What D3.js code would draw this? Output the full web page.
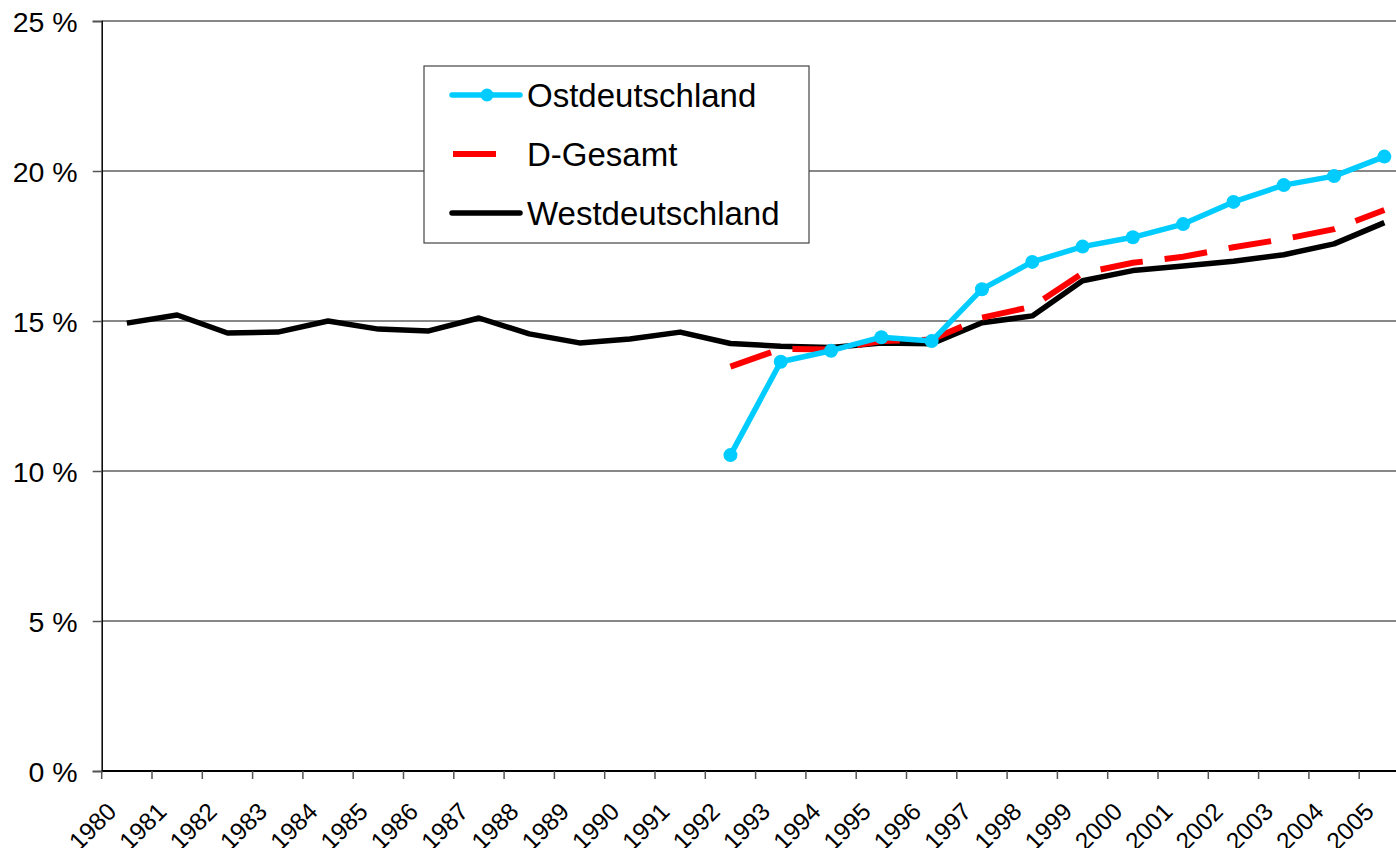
<!DOCTYPE html>
<html>
<head>
<meta charset="utf-8">
<script src="https://cdn.jsdelivr.net/npm/d3@7"></script>
<style>
  html, body { margin: 0; padding: 0; background: #fff; overflow: hidden; }
  svg { display: block; font-family: "Liberation Sans", Arial, sans-serif; }
</style>
</head>
<body>
<svg id="chart" width="1396" height="848"></svg>
<script>
const years = ["1980","1981","1982","1983","1984","1985","1986","1987","1988","1989","1990","1991","1992","1993","1994","1995","1996","1997","1998","1999","2000","2001","2002","2003","2004","2005"];
const westValues = [14.93,15.2,14.6,14.63,15.0,14.73,14.67,15.1,14.57,14.27,14.4,14.63,14.25,14.16,14.12,14.27,14.24,14.94,15.17,16.34,16.68,16.83,16.99,17.21,17.57,18.28];
const gesamtYears = ["1992","1993","1994","1995","1996","1997","1998","1999","2000","2001","2002","2003","2004","2005"];
const gesamtValues = [13.48,14.07,14.05,14.33,14.38,15.11,15.48,16.59,16.94,17.14,17.46,17.73,18.06,18.7];
const ostYears = ["1992","1993","1994","1995","1996","1997","1998","1999","2000","2001","2002","2003","2004","2005"];
const ostValues = [10.53,13.64,14.01,14.46,14.33,16.06,16.97,17.48,17.79,18.23,18.97,19.53,19.83,20.48];
const yTicks = [0,5,10,15,20,25];
const yTickLabels = ["0 %","5 %","10 %","15 %","20 %","25 %"];
const legendLabels = ["Ostdeutschland","D-Gesamt","Westdeutschland"];

const svg = d3.select("#chart");
const pLeft = 101.7, pRight = 1409.5, pTop = 21, pBottom = 771;

const x = d3.scaleBand().domain(years).range([pLeft, pRight]).padding(0);
const y = d3.scaleLinear().domain([0, 25]).range([pBottom, pTop]);
const cx = d => x(d) + x.bandwidth() / 2;

// gridlines
svg.append("g").selectAll("line").data(yTicks.filter(v => v > 0)).join("line")
  .attr("x1", pLeft).attr("x2", pRight)
  .attr("y1", d => y(d)).attr("y2", d => y(d))
  .attr("stroke", "#111").attr("stroke-width", 1.2);

// y axis
const yAxis = d3.axisLeft(y).tickValues(yTicks).tickSize(9).tickFormat((d, i) => yTickLabels[i]);
const gy = svg.append("g").attr("transform", `translate(${pLeft},0)`).call(yAxis);
gy.select(".domain").attr("stroke", "#000").attr("stroke-width", 1.5);
gy.selectAll(".tick line").attr("stroke", "#555").attr("stroke-width", 1.5);
gy.selectAll(".tick text").attr("font-size", 28.5).attr("font-family", "Liberation Sans, Arial, sans-serif")
  .attr("fill", "#000").attr("x", -24).attr("dy", "0.36em");

// x axis line and ticks at band boundaries
svg.append("line").attr("x1", pLeft).attr("x2", pRight).attr("y1", pBottom).attr("y2", pBottom)
  .attr("stroke", "#000").attr("stroke-width", 2);
const boundaries = years.map(d => x(d)).concat([pRight]);
svg.append("g").selectAll("line").data(boundaries).join("line")
  .attr("x1", d => d).attr("x2", d => d).attr("y1", pBottom).attr("y2", pBottom + 8)
  .attr("stroke", "#555").attr("stroke-width", 1.5);
svg.append("g").selectAll("text").data(years).join("text")
  .attr("transform", d => `translate(${cx(d) - 9},${pBottom + 42}) rotate(-45)`)
  .attr("text-anchor", "end").attr("font-size", 24.5).attr("fill", "#000")
  .text(d => d);

// lines
const line = d3.line().x(d => cx(d[0])).y(d => y(d[1]));
const westData = years.map((d, i) => [d, westValues[i]]);
const gesData = gesamtYears.map((d, i) => [d, gesamtValues[i]]);
const ostData = ostYears.map((d, i) => [d, ostValues[i]]);

svg.append("path").datum(westData).attr("d", line)
  .attr("fill", "none").attr("stroke", "#000").attr("stroke-width", 5.5).attr("stroke-linejoin", "round");
svg.append("path").datum(gesData).attr("d", line)
  .attr("fill", "none").attr("stroke", "#ff0000").attr("stroke-width", 6)
  .attr("stroke-dasharray", "43,22").attr("stroke-linecap", "butt");
svg.append("path").datum(ostData).attr("d", line)
  .attr("fill", "none").attr("stroke", "#00ccff").attr("stroke-width", 5.5).attr("stroke-linejoin", "round");
svg.append("g").selectAll("circle").data(ostData).join("circle")
  .attr("cx", d => cx(d[0])).attr("cy", d => y(d[1])).attr("r", 7).attr("fill", "#00ccff");

// legend
const lg = svg.append("g");
lg.append("rect").attr("x", 424).attr("y", 66).attr("width", 385).attr("height", 177)
  .attr("fill", "#fff").attr("stroke", "#444").attr("stroke-width", 1.2);
const rows = [95, 154, 213];
lg.append("line").attr("x1", 452).attr("x2", 520).attr("y1", rows[0]).attr("y2", rows[0])
  .attr("stroke", "#00ccff").attr("stroke-width", 5.5).attr("stroke-linecap", "round");
lg.append("circle").attr("cx", 487).attr("cy", rows[0]).attr("r", 6.5).attr("fill", "#00ccff");
lg.append("line").attr("x1", 453).attr("x2", 496).attr("y1", rows[1]).attr("y2", rows[1])
  .attr("stroke", "#ff0000").attr("stroke-width", 6);
lg.append("line").attr("x1", 452).attr("x2", 520).attr("y1", rows[2]).attr("y2", rows[2])
  .attr("stroke", "#000").attr("stroke-width", 5.5).attr("stroke-linecap", "round");
lg.selectAll("text.lbl").data(legendLabels).join("text").attr("class", "lbl")
  .attr("x", 527).attr("y", (d, i) => rows[i] + 11.5)
  .attr("font-size", 33).attr("fill", "#000").text(d => d);
</script>
</body>
</html>
